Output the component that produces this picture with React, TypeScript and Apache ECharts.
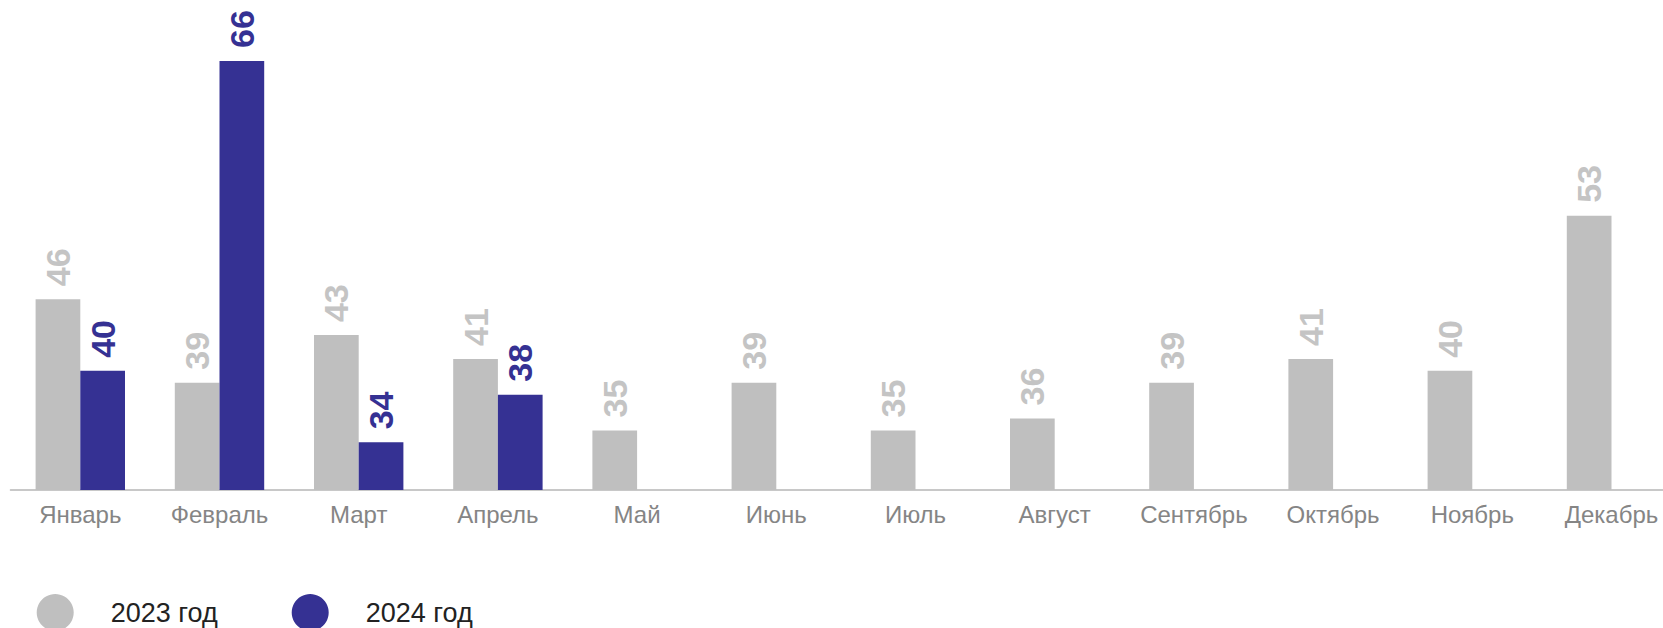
import React, { useEffect, useRef } from "react";
import * as echarts from "echarts";

const categories = [
  "Январь", "Февраль", "Март", "Апрель", "Май", "Июнь",
  "Июль", "Август", "Сентябрь", "Октябрь", "Ноябрь", "Декабрь",
];
const series2023 = [46, 39, 43, 41, 35, 39, 35, 36, 39, 41, 40, 53];
const series2024 = [40, 66, 34, 38, null, null, null, null, null, null, null, null];
const seriesNames = ["2023 год", "2024 год"];

const GRAY = "#bfbfbf";
const BLUE = "#353193";
const FONT = "Arial, 'Liberation Sans', sans-serif";
const CHART_W = 1720;

export default function App() {
  const ref = useRef<HTMLDivElement>(null);

  useEffect(() => {
    if (!ref.current) return;
    const chart = echarts.init(ref.current, undefined, { renderer: "svg" });
    const labelBase = {
      show: true,
      position: "top" as const,
      rotate: 90,
      align: "left" as const,
      verticalAlign: "middle" as const,
      distance: 13,
      fontSize: 34,
      fontWeight: "bold" as const,
      fontFamily: FONT,
    };
    chart.setOption({
      animation: false,
      textStyle: { fontFamily: FONT },
      grid: {
        left: 10.7,
        width: 1670.4,
        top: 13.2,
        height: 476.8,
        containLabel: false,
        outerBoundsMode: "none",
      },
      legend: {
        data: seriesNames,
        left: 36.7,
        top: 594,
        padding: 0,
        icon: "circle",
        itemWidth: 37,
        itemHeight: 37,
        itemGap: 74,
        selectedMode: false,
        textStyle: { fontSize: 27, color: "#222222", fontFamily: FONT, padding: [0, 0, 0, 32] },
      },
      xAxis: {
        type: "category",
        data: categories,
        axisTick: { show: false },
        axisLine: { show: true, lineStyle: { color: "#c8c8c8", width: 2 } },
        axisLabel: { fontSize: 24, color: "#858585", margin: 12, fontFamily: FONT, interval: 0 },
      },
      yAxis: {
        type: "value",
        min: 30,
        max: 70,
        show: false,
        splitLine: { show: false },
      },
      series: [
        {
          name: seriesNames[0],
          type: "bar",
          data: series2023,
          barWidth: 44.7,
          barGap: "0%",
          itemStyle: { color: GRAY },
          label: { ...labelBase, color: "#c4c4c4" },
        },
        {
          name: seriesNames[1],
          type: "bar",
          data: series2024,
          barWidth: 44.7,
          barGap: "0%",
          itemStyle: { color: BLUE },
          label: { ...labelBase, color: BLUE },
        },
      ],
    });
    return () => chart.dispose();
  }, []);

  return (
    <div
      style={{
        position: "absolute",
        left: 0,
        top: 0,
        width: 1663,
        height: 628,
        overflow: "hidden",
        background: "#fff",
      }}
    >
      <div ref={ref} style={{ width: CHART_W, height: 628 }} />
    </div>
  );
}
